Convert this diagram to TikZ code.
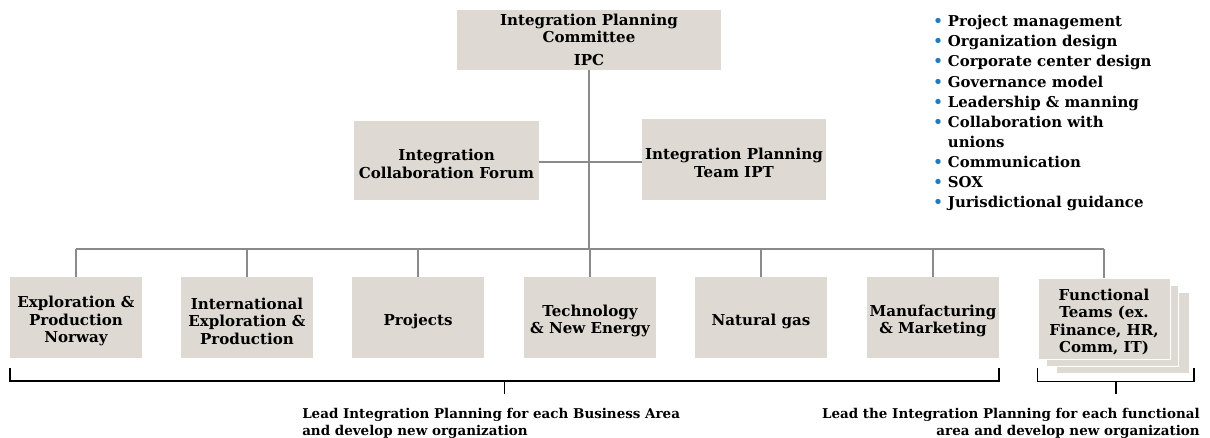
\documentclass[tikz,border=0pt]{standalone}
\usepackage{fontspec}
\setmainfont{DejaVu Serif}
\usetikzlibrary{calc}
\definecolor{boxfill}{HTML}{DED9D3}
\definecolor{linkgray}{HTML}{8A8A8A}
\definecolor{bulletblue}{HTML}{1F7BBF}
\newcommand{\bul}{\makebox[11pt][l]{\textcolor{bulletblue}{\textbullet}}}
% taller first line, so that box text sits a little lower
\newcommand{\tallstrut}{\rule{0pt}{14pt}}
\begin{document}
\begin{tikzpicture}[x=0.75pt,y=-0.75pt,
  sz/.style 2 args={minimum width=#1*0.75pt, minimum height=#2*0.75pt},
  box/.style={fill=boxfill, draw=none, align=center, inner sep=1pt,
              font=\bfseries\fontsize{11.3}{13.2}\selectfont},
  link/.style={draw=linkgray, line width=1.2pt},
  brace/.style={draw=black, line width=1.3pt},
  note/.style={inner sep=0pt, font=\bfseries\fontsize{10.1}{12.7}\selectfont}]
\useasboundingbox (0,0) rectangle (1210,438);

% steering bodies
\node[box, sz={264}{60}] (ipc) at (589,40) {Integration Planning\\Committee\\[4pt]IPC};
\node[box, sz={185}{79}] (icf) at (446.5,160.5) {\tallstrut Integration\\Collaboration Forum};
\node[box, sz={184}{81}] (ipt) at (734,159.5) {\tallstrut Integration Planning\\Team IPT};

% business areas
\node[box, sz={132}{81}] (b1) at (76,317.5)  {\tallstrut Exploration \&\\Production\\Norway};
\node[box, sz={132}{81}] (b2) at (247,317.5) {\tallstrut International\\Exploration \&\\Production};
\node[box, sz={132}{81}] (b3) at (418,317.5) {\tallstrut Projects};
\node[box, sz={132}{81}] (b4) at (590,317.5) {\tallstrut Technology\\\& New Energy};
\node[box, sz={132}{81}] (b5) at (761,317.5) {\tallstrut Natural gas};
\node[box, sz={132}{81}] (b6) at (933,317.5) {\tallstrut Manufacturing\\\& Marketing};

% functional teams as a stack of sheets
\node[box, sz={132}{80}] (ft3) at (1123,333) {};
\node[box, sz={132}{81}, draw=white, line width=0.6pt] (ft2) at (1112,325.5) {};
\node[box, sz={132}{81}, draw=white, line width=0.6pt] (ft) at (1104,318.5) {\tallstrut Functional\\Teams (ex.\\Finance, HR,\\Comm, IT)};

% connectors
\coordinate (cross) at (589,162);
\coordinate (bus) at (589,249);
\draw[link] (ipc.south) -- (ipc.south |- bus);
\draw[link] (icf.east |- cross) -- (ipt.west |- cross);
\draw[link] (b1.north |- bus) -- (ft.north |- bus);
\foreach \n in {b1,b2,b3,b4,b5,b6,ft}
  \draw[link] (\n.north |- bus) -- (\n.north);

% brackets
\coordinate (lbA) at ($(b1.south west)+(0,10)$);
\coordinate (lbB) at ($(b6.south east)+(0,10)$);
\draw[brace] (lbA) -- ++(0,13) -| (lbB);
\coordinate (lbM) at ($(lbA)!0.5!(lbB)+(0,13)$);
\draw[brace] (lbM) -- ++(0,13);
\coordinate (rbA) at ($(ft.south west)+(0,9)$);
\coordinate (rbB) at ($(ft3.south east)+(5,-5)$);
\draw[brace] (rbA) -- ++(0,13) -| (rbB);
\coordinate (rbM) at ($(rbA)!0.5!(rbB)+(0,13)$);
\draw[brace] (rbM) -- ++(0,13);

% captions
\node[note, anchor=north west, align=left] (capL) at (302,408)
  {Lead Integration Planning for each Business Area\\and develop new organization};
\node[note, anchor=north east, align=right] (capR) at (1200,408)
  {Lead the Integration Planning for each functional\\area and develop new organization};

% workstreams
\node[inner sep=0pt, anchor=north west, align=left,
      font=\bfseries\fontsize{11.2}{15.1}\selectfont] (tasks) at (933,15)
  {\bul Project management\\
   \bul Organization design\\
   \bul Corporate center design\\
   \bul Governance model\\
   \bul Leadership \& manning\\
   \bul Collaboration with\\
   \hphantom{\bul}unions\\
   \bul Communication\\
   \bul SOX\\
   \bul Jurisdictional guidance};
\end{tikzpicture}
\end{document}
